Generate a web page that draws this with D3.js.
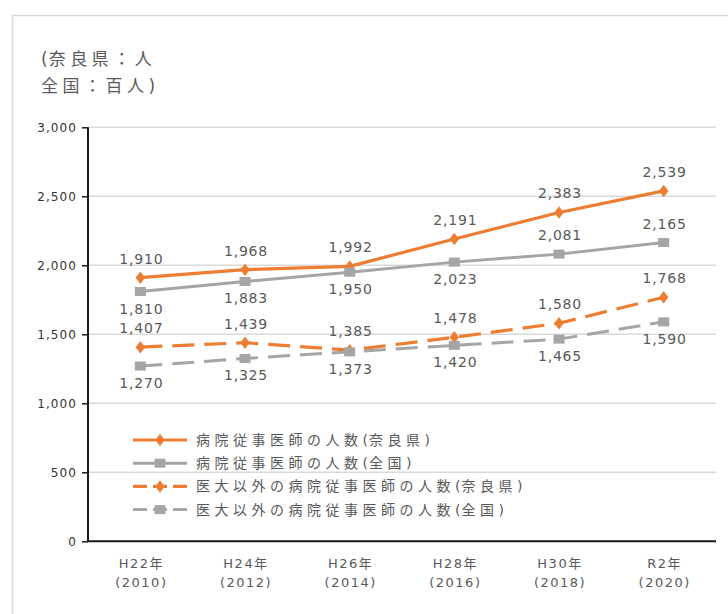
<!DOCTYPE html>
<html><head><meta charset="utf-8">
<script src="https://cdn.jsdelivr.net/npm/d3@7"></script>
<style>
html,body{margin:0;padding:0;background:#fff;}
svg{display:block;}
text{font-family:"DejaVu Sans","Noto Sans CJK JP",sans-serif;}
</style></head>
<body>
<svg id="chart" width="728" height="614"></svg>
<script>
// ---- data ----
const eraLabels = ["H22年","H24年","H26年","H28年","H30年","R2年"];
const yearLabels = ["(2010)","(2012)","(2014)","(2016)","(2018)","(2020)"];
const seriesNames = [
  "病院従事医師の人数(奈良県)",
  "病院従事医師の人数(全国)",
  "医大以外の病院従事医師の人数(奈良県)",
  "医大以外の病院従事医師の人数(全国)"
];
const naraHospital     = [1910, 1968, 1992, 2191, 2383, 2539];
const nationalHospital = [1810, 1883, 1950, 2023, 2081, 2165];
const naraNonUniv      = [1407, 1439, 1385, 1478, 1580, 1768];
const nationalNonUniv  = [1270, 1325, 1373, 1420, 1465, 1590];
const yTicks = [0, 500, 1000, 1500, 2000, 2500, 3000];
const unitLines = ["(奈良県：人", "全国：百人)"];

// label placement (style)
const labelPlacement = [
  ["above","above","above","above","above","above"],
  ["below","below","below","below","above","above"],
  ["above","above","above","above","above","above"],
  ["below","below","below","below","below","below"]
];

const ORANGE = "#ED7D31", GRAY = "#A5A5A5";
const seriesStyle = [
  {color: ORANGE, dash: null, marker: "diamond", width: 3.2},
  {color: GRAY,   dash: null, marker: "square",  width: 3},
  {color: ORANGE, dash: "22,10", marker: "diamond", width: 3.2},
  {color: GRAY,   dash: "22,10", marker: "square",  width: 3}
];
const seriesValues = [naraHospital, nationalHospital, naraNonUniv, nationalNonUniv];

const svg = d3.select("#chart");

// writes text char by char so parentheses get tighter spacing
function spacedText(sel, str, spacing) {
  Array.from(str).forEach(ch => {
    sel.append("tspan")
      .attr("letter-spacing", (ch === "(" || ch === ")") ? 1 : spacing)
      .text(ch);
  });
}

// frame
svg.append("rect").attr("x", 12.5).attr("y", 15.5).attr("width", 740).attr("height", 640)
  .attr("fill", "none").attr("stroke", "#d9d9d9").attr("stroke-width", 1.5);

const x = d3.scaleBand().domain(d3.range(eraLabels.length)).range([88, 716]);
const y = d3.scaleLinear().domain([0, 3000]).range([541.3, 127.3]);
const cx = i => x(i) + x.bandwidth() / 2;

// unit text
unitLines.forEach((ln, i) => {
  const t = svg.append("text")
    .attr("x", 41).attr("y", 59 + i * 27)
    .attr("dominant-baseline", "central")
    .attr("font-size", 17).attr("fill", "#595959");
  spacedText(t, ln, 4.5);
});

// gridlines
svg.append("g").selectAll("line").data(yTicks.filter(t => t > 0)).enter().append("line")
  .attr("x1", 88).attr("x2", 716)
  .attr("y1", d => y(d)).attr("y2", d => y(d))
  .attr("stroke", "#d9d9d9").attr("stroke-width", 1.5);

// y axis
const yAxis = d3.axisLeft(y).tickValues(yTicks).tickSize(6).tickPadding(6)
  .tickFormat(d3.format(","));
const gy = svg.append("g").attr("transform", "translate(88,0)").call(yAxis);
gy.select(".domain").attr("stroke", "#1a1a1a").attr("stroke-width", 2).attr("d", `M0,${y(3000)}V${y(0)}`);
gy.selectAll(".tick line").attr("stroke", "#1a1a1a").attr("stroke-width", 1.5);
gy.selectAll(".tick text").attr("font-size", 12).attr("letter-spacing", 1.1)
  .attr("fill", "#333333").attr("dx", 1)
  .style("font-family", "'DejaVu Sans', sans-serif");

// x axis
const xAxis = d3.axisBottom(x).tickSize(0).tickFormat(() => "");
const gx = svg.append("g").attr("transform", `translate(0,${y(0)})`).call(xAxis);
gx.select(".domain").attr("stroke", "#1a1a1a").attr("stroke-width", 2).attr("d", "M87,0H716");
gx.selectAll(".tick").each(function(d, i) {
  const t = d3.select(this).select("text");
  t.attr("y", 0).attr("dy", null).attr("font-size", 13).attr("fill", "#595959")
   .attr("letter-spacing", 1.5)
   .style("font-family", "'DejaVu Sans','Noto Sans CJK JP', sans-serif");
  t.text(null);
  t.append("tspan").attr("x", 1).attr("y", 22).text(eraLabels[i]);
  t.append("tspan").attr("x", 1).attr("y", 41).text(yearLabels[i]);
});
gx.selectAll(".tick text").attr("dominant-baseline", "central");

// lines
const line = d3.line().x((d, i) => cx(i)).y(d => y(d));
seriesValues.forEach((vals, s) => {
  const st = seriesStyle[s];
  svg.append("path").datum(vals).attr("d", line)
    .attr("fill", "none").attr("stroke", st.color).attr("stroke-width", st.width)
    .attr("stroke-dasharray", st.dash).attr("stroke-linejoin", "round");
});

function drawMarker(g, type, color, px, py) {
  if (type === "square") {
    g.append("rect").attr("x", px - 5.5).attr("y", py - 4.5).attr("width", 11).attr("height", 9)
      .attr("fill", color);
  } else {
    g.append("path").attr("d", d3.symbol().type(d3.symbolDiamond).size(45)())
      .attr("transform", `translate(${px},${py}) scale(1.3,1)`).attr("fill", color);
  }
}

// markers
seriesValues.forEach((vals, s) => {
  const st = seriesStyle[s];
  const g = svg.append("g");
  vals.forEach((v, i) => drawMarker(g, st.marker, st.color, cx(i), y(v)));
});

// data labels
const fmt = d3.format(",");
seriesValues.forEach((vals, s) => {
  svg.append("g").selectAll("text").data(vals).enter().append("text")
    .attr("x", (d, i) => cx(i) + 1)
    .attr("y", (d, i) => y(d) + (labelPlacement[s][i] === "above" ? -19 : 17))
    .attr("text-anchor", "middle").attr("dominant-baseline", "central")
    .attr("font-size", 14).attr("letter-spacing", 0.8).attr("fill", "#595959")
    .text(d => fmt(d));
});

// legend
const legend = svg.append("g");
seriesNames.forEach((name, s) => {
  const st = seriesStyle[s];
  const ly = 440 + s * 23.2;
  legend.append("line").attr("x1", 133).attr("x2", 187).attr("y1", ly).attr("y2", ly)
    .attr("stroke", st.color).attr("stroke-width", st.width)
    .attr("stroke-dasharray", st.dash ? "14,6" : null);
  drawMarker(legend, st.marker, st.color, 160, ly);
  const t = legend.append("text").attr("x", 196).attr("y", ly).attr("dominant-baseline", "central")
    .attr("font-size", 14).attr("fill", "#595959");
  spacedText(t, name, 4.5);
});
</script>
</body></html>
